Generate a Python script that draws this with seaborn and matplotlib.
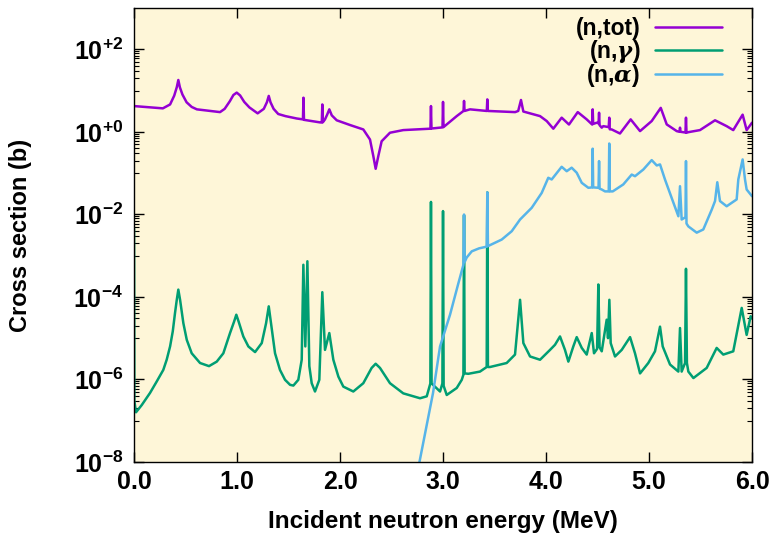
"""Neutron-induced cross sections: total, capture and alpha emission."""

from __future__ import annotations

import matplotlib

matplotlib.use("Agg")
import matplotlib.pyplot as plt
import matplotlib.ticker as mticker
import numpy as np
import pandas as pd
import seaborn as sns


# (energy MeV, cross section b)
TOT_POINTS = [
    (0.0, 4.2), (0.28, 3.7), (0.35, 4.6), (0.39, 7.5), (0.415, 12.0), (0.43, 18.0),
    (0.445, 12.0), (0.47, 8.0), (0.51, 5.2), (0.56, 4.0), (0.61, 3.5), (0.835, 3.0),
    (0.88, 3.6), (0.93, 5.5), (0.965, 7.8), (0.997, 8.9), (1.03, 7.6), (1.07, 5.3),
    (1.12, 3.9), (1.2, 2.8), (1.26, 3.6), (1.29, 5.2), (1.308, 7.4), (1.325, 5.2),
    (1.355, 3.6), (1.40, 2.7), (1.47, 2.4), (1.58, 2.1), (1.640, 2.0), (1.645, 6.7),
    (1.650, 1.95), (1.806, 1.69), (1.823, 1.68), (1.828, 4.6), (1.833, 1.7), (1.854, 2.0),
    (1.875, 2.6), (1.896, 3.5), (1.92, 2.5), (1.968, 1.9), (2.097, 1.46), (2.226, 1.14),
    (2.291, 0.65), (2.323, 0.26), (2.346, 0.127), (2.372, 0.26), (2.404, 0.59), (2.485, 0.95),
    (2.614, 1.1), (2.878, 1.19), (2.883, 4.2), (2.888, 1.2), (2.995, 1.28), (3.000, 5.3),
    (3.005, 1.3), (3.036, 1.51), (3.133, 2.4), (3.199, 3.2), (3.204, 5.6), (3.209, 3.2),
    (3.262, 3.5), (3.425, 3.2), (3.430, 6.1), (3.435, 3.2), (3.70, 3.0), (3.73, 3.2),
    (3.757, 5.9), (3.78, 3.1), (3.942, 2.4), (4.007, 1.82), (4.071, 1.19), (4.152, 2.2),
    (4.223, 1.5), (4.308, 3.0), (4.395, 2.0), (4.448, 1.5), (4.453, 3.5), (4.458, 1.55),
    (4.492, 1.66), (4.51, 1.6), (4.515, 2.9), (4.52, 1.45), (4.541, 1.26), (4.556, 1.37),
    (4.609, 1.3), (4.614, 2.2), (4.619, 1.15), (4.638, 1.14), (4.718, 0.91), (4.822, 2.0),
    (4.913, 1.04), (5.026, 1.82), (5.114, 3.8), (5.172, 1.51), (5.269, 1.04), (5.296, 1.0),
    (5.301, 1.26), (5.306, 1.0), (5.354, 0.96), (5.359, 2.2), (5.364, 0.95), (5.382, 0.98),
    (5.495, 1.1), (5.641, 1.9), (5.754, 1.37), (5.818, 1.1), (5.909, 2.6), (5.948, 1.1),
    (6.0, 1.66),
]

GAMMA_POINTS = [
    (0.0, 4.5e-3), (0.003, 3.0e-7), (0.019, 1.6e-7), (0.075, 2.4e-7), (0.155, 4.7e-7),
    (0.220, 8.9e-7), (0.284, 1.7e-6), (0.317, 3.0e-6), (0.35, 6.3e-6), (0.376, 1.46e-5),
    (0.398, 4.1e-5), (0.415, 8.5e-5), (0.43, 1.5e-4), (0.447, 8.5e-5), (0.479, 2.3e-5),
    (0.512, 9.1e-6), (0.560, 4.3e-6), (0.641, 2.5e-6), (0.728, 2.1e-6), (0.803, 2.7e-6),
    (0.867, 4.3e-6), (0.932, 1.33e-5), (0.971, 2.5e-5), (0.993, 3.7e-5), (1.016, 2.5e-5),
    (1.061, 1.1e-5), (1.110, 6.3e-6), (1.175, 4.6e-6), (1.24, 7.6e-6), (1.282, 2.3e-5),
    (1.308, 5.9e-5), (1.330, 2.3e-5), (1.369, 4.3e-6), (1.417, 1.7e-6), (1.466, 9.8e-7),
    (1.515, 7.4e-7), (1.547, 7.1e-7), (1.595, 9.8e-7), (1.628, 3.0e-6), (1.644, 6.0e-4),
    (1.663, 6.3e-6), (1.683, 7.3e-4), (1.702, 2.1e-6), (1.725, 8.1e-7), (1.757, 5.1e-7),
    (1.799, 9.8e-7), (1.828, 1.3e-4), (1.854, 5.2e-6), (1.896, 1.33e-5), (1.935, 3.0e-6),
    (1.984, 1.17e-6), (2.032, 6.7e-7), (2.129, 5.1e-7), (2.226, 8.1e-7), (2.307, 1.9e-6),
    (2.346, 2.4e-6), (2.388, 1.9e-6), (2.485, 8.1e-7), (2.614, 4.6e-7), (2.777, 3.5e-7),
    (2.842, 3.9e-7), (2.877, 8.0e-7), (2.883, 2.0e-2), (2.889, 8.0e-7), (2.971, 5.1e-7),
    (2.994, 8.0e-7), (3.0, 1.2e-2), (3.006, 7.0e-7), (3.036, 4.2e-7), (3.133, 6.2e-7),
    (3.182, 9.8e-7), (3.198, 1.3e-6), (3.204, 9.5e-3), (3.21, 1.4e-6), (3.246, 1.37e-6),
    (3.359, 1.55e-6), (3.424, 2.0e-6), (3.43, 3.4e-2), (3.436, 2.0e-6), (3.456, 2.0e-6),
    (3.618, 2.5e-6), (3.699, 4.0e-6), (3.748, 8.5e-5), (3.780, 7.6e-6), (3.845, 3.6e-6),
    (3.942, 3.0e-6), (4.039, 5.2e-6), (4.087, 6.9e-6), (4.136, 1.1e-5), (4.184, 5.2e-6),
    (4.217, 2.7e-6), (4.265, 6.3e-6), (4.298, 1.06e-5), (4.347, 5.8e-6), (4.395, 4.0e-6),
    (4.444, 1.33e-5), (4.466, 4.3e-6), (4.496, 5.5e-6), (4.508, 2.0e-4), (4.52, 6.0e-6),
    (4.541, 4.8e-6), (4.589, 2.8e-5), (4.602, 1.0e-5), (4.615, 8.5e-5), (4.628, 7.6e-6),
    (4.670, 3.6e-6), (4.735, 5.2e-6), (4.816, 1.06e-5), (4.864, 4.3e-6), (4.913, 1.4e-6),
    (4.993, 2.5e-6), (5.058, 4.8e-6), (5.107, 1.9e-5), (5.133, 6.3e-6), (5.204, 2.3e-6),
    (5.285, 1.55e-6), (5.301, 1.76e-5), (5.317, 1.55e-6), (5.350, 2.5e-6), (5.359, 4.8e-4),
    (5.368, 2.5e-6), (5.382, 1.55e-6), (5.431, 1.08e-6), (5.560, 1.9e-6), (5.657, 5.8e-6),
    (5.721, 4.0e-6), (5.818, 4.8e-6), (5.900, 5.4e-5), (5.948, 1.2e-5), (5.987, 3.4e-5),
    (6.0, 3.0e-5),
]

ALPHA_POINTS = [
    (2.74, 4.0e-9), (2.903, 4.7e-7), (2.971, 6.3e-6), (3.068, 3.7e-5), (3.146, 2.0e-4),
    (3.198, 6.0e-4), (3.204, 9.9e-3), (3.21, 7.0e-4), (3.23, 9.0e-4), (3.279, 1.27e-3),
    (3.35, 1.5e-3), (3.424, 1.65e-3), (3.43, 3.4e-2), (3.436, 1.7e-3), (3.57, 2.45e-3),
    (3.667, 3.9e-3), (3.748, 7.5e-3), (3.861, 1.44e-2), (3.958, 3.3e-2), (4.022, 7.7e-2),
    (4.055, 7.0e-2), (4.152, 0.142), (4.201, 0.111), (4.249, 0.135), (4.298, 0.102),
    (4.347, 0.058), (4.411, 0.044), (4.448, 0.045), (4.453, 0.39), (4.458, 0.045),
    (4.51, 0.044), (4.515, 0.195), (4.52, 0.042), (4.541, 0.040), (4.573, 0.036),
    (4.609, 0.036), (4.614, 0.52), (4.619, 0.036), (4.648, 0.036), (4.75, 0.053),
    (4.832, 0.092), (4.864, 0.084), (4.945, 0.122), (5.026, 0.206), (5.075, 0.153),
    (5.107, 0.162), (5.155, 0.070), (5.22, 0.025), (5.285, 9.0e-3), (5.301, 0.048),
    (5.317, 7.5e-3), (5.354, 8.5e-3), (5.359, 0.195), (5.364, 6.0e-3), (5.382, 5.1e-3),
    (5.463, 3.6e-3), (5.527, 4.3e-3), (5.609, 1.3e-2), (5.641, 2.1e-2), (5.663, 0.060),
    (5.689, 2.1e-2), (5.754, 1.57e-2), (5.851, 2.3e-2), (5.867, 0.07), (5.909, 0.214),
    (5.932, 0.07), (5.948, 0.040), (6.0, 0.0275),
]

REACTIONS = ["(n,tot)", r"(n,$\gamma$)", r"(n,$\alpha$)"]
COLORS = ["#9400d3", "#009e73", "#56b4e9"]

X_TICKS = [0, 1, 2, 3, 4, 5, 6]
Y_TICKS = [1e-8, 1e-6, 1e-4, 1e-2, 1e0, 1e2]


def setup_style() -> None:
    sns.set_style("ticks")
    plt.rcParams["font.family"] = ["Liberation Sans", "DejaVu Sans"]
    plt.rcParams["font.weight"] = "bold"
    plt.rcParams["text.color"] = "black"
    plt.rcParams["axes.labelcolor"] = "black"
    plt.rcParams["xtick.color"] = "black"
    plt.rcParams["ytick.color"] = "black"
    plt.rcParams["mathtext.fontset"] = "custom"
    plt.rcParams["mathtext.rm"] = "Liberation Sans:bold"
    plt.rcParams["mathtext.bf"] = "Liberation Sans:bold"
    plt.rcParams["mathtext.it"] = "DejaVu Serif:italic"


def build_frame() -> pd.DataFrame:
    parts = []
    for name, points in zip(REACTIONS, [TOT_POINTS, GAMMA_POINTS, ALPHA_POINTS]):
        part = pd.DataFrame(points, columns=["energy", "xs"])
        part["reaction"] = name
        parts.append(part)
    return pd.concat(parts, ignore_index=True)


def y_label(value, _pos) -> str:
    exp = int(round(np.log10(value)))
    return r"$\mathbf{10^{%+d}}$" % exp


def plot(df: pd.DataFrame) -> None:
    fig = plt.figure(figsize=(7.69, 5.36), dpi=100)
    ax = fig.add_axes([0.1743, 0.1381, 0.8036, 0.8470])
    ax.set_facecolor("#fef6d8")
    ax.set_yscale("log")

    for name, color in zip(REACTIONS, COLORS):
        sub = df[df["reaction"] == name]
        sns.lineplot(data=sub, x="energy", y="xs", ax=ax, color=color, lw=1.8,
                     estimator=None, sort=False, label=name)

    ax.set_xlim(0, 6)
    ax.set_ylim(1e-8, 1e3)
    ax.set_xticks(X_TICKS)
    ax.xaxis.set_major_formatter(mticker.FuncFormatter(lambda v, _p: f"{v:.1f}"))
    ax.set_yticks(Y_TICKS)
    ax.yaxis.set_major_formatter(mticker.FuncFormatter(y_label))
    minors = [k * 10.0 ** e for e in (-7, -5, -3, -1, 1) for k in range(1, 10)]
    ax.yaxis.set_minor_locator(mticker.FixedLocator(minors))
    ax.yaxis.set_minor_formatter(mticker.NullFormatter())
    ax.xaxis.set_minor_locator(mticker.NullLocator())

    ax.tick_params(which="both", direction="in", top=True, right=True)
    ax.tick_params(which="major", length=7, width=1, labelsize=18)
    ax.tick_params(axis="x", which="major", pad=6)
    ax.tick_params(axis="y", which="major", pad=8)
    ax.tick_params(which="minor", length=3.5, width=0.8)
    for spine in ax.spines.values():
        spine.set_color("black")
        spine.set_linewidth(1)

    ax.set_xlabel("Incident neutron energy (MeV)", fontsize=17.5, fontweight="bold", va="top")
    ax.set_ylabel("Cross section (b)", fontsize=17, fontweight="bold")
    ax.xaxis.set_label_coords(0.5, -0.106)
    ax.yaxis.set_label_coords(-0.165, 0.5)

    ax.legend(loc="upper right", bbox_to_anchor=(0.951, 0.98), frameon=False,
              markerfirst=False, fontsize=16.5, handlelength=2.9, handletextpad=0.65,
              labelspacing=-0.1, borderpad=0, borderaxespad=0)

    fig.savefig("out.png", dpi=100)
    plt.close(fig)


def main() -> None:
    setup_style()
    plot(build_frame())


if __name__ == "__main__":
    main()
